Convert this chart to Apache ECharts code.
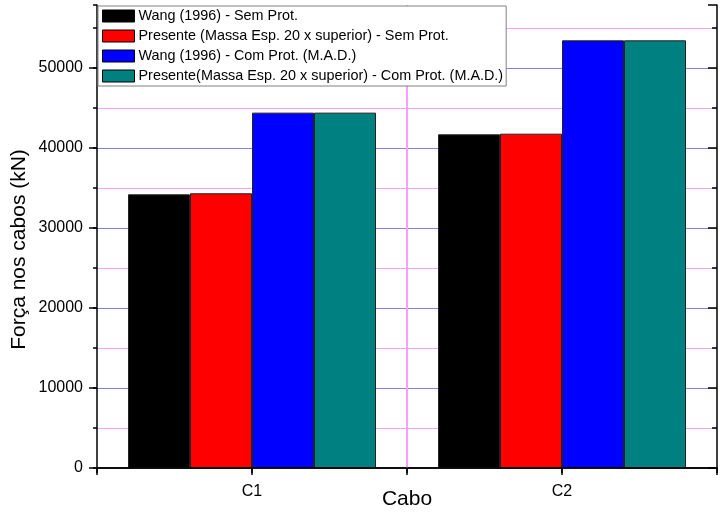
<!DOCTYPE html>
<html>
<head>
<meta charset="utf-8">
<script src="https://cdn.jsdelivr.net/npm/echarts@6/dist/echarts.min.js"></script>
<style>
html,body{margin:0;padding:0;background:#fff;}
#chart{width:727px;height:514px;}
</style>
</head>
<body>
<div id="chart"></div>
<script>
const categories = ['C1', 'C2'];
const seriesNames = [
  'Wang (1996) - Sem Prot.',
  'Presente (Massa Esp. 20 x superior) - Sem Prot.',
  'Wang (1996) - Com Prot. (M.A.D.)',
  'Presente(Massa Esp. 20 x superior) - Com Prot. (M.A.D.)'
];
const wangSem = [34210, 41710];
const presenteSem = [34340, 41790];
const wangCom = [44420, 53460];
const presenteCom = [44420, 53460];
const seriesColors = ['#000000', '#ff0000', '#0000ff', '#008080'];
const yMax = 57875;
// helper slots for the vertical grid: edge, C1 centre, middle, C2 centre, edge
const gridSlots = ['e0', 'c1', 'mid', 'c2', 'e1'];

const font = 'Liberation Sans, Arial, sans-serif';
const blueGrid = '#8080ff';
const pinkGrid = '#ff9cff';

const chart = echarts.init(document.getElementById('chart'));
const values = [wangSem, presenteSem, wangCom, presenteCom];

const frameLine = { show: true, lineStyle: { color: '#000', width: 1.5 } };
const noLabel = { show: false };

chart.setOption({
  animation: false,
  backgroundColor: '#fff',
  textStyle: { fontFamily: font },
  grid: { left: 97, right: 10, top: 5, bottom: 46, containLabel: false, outerBoundsMode: 'none' },
  legend: {
    orient: 'vertical',
    left: 98,
    top: 6,
    padding: [3, 3, 3, 4],
    itemWidth: 32,
    itemHeight: 12,
    itemGap: 6,
    backgroundColor: '#fff',
    borderColor: '#808080',
    borderWidth: 1,
    borderRadius: 0,
    itemStyle: { borderColor: '#000', borderWidth: 1 },
    textStyle: { fontFamily: font, fontSize: 14.4, color: '#000', padding: [0, 0, 0, -1], lineHeight: 12 },
    data: seriesNames.map(n => ({ name: n, icon: 'rect' })),
    z: 10
  },
  xAxis: [
    {
      type: 'category',
      data: categories,
      position: 'bottom',
      boundaryGap: true,
      axisLine: { show: false },
      axisTick: { show: false },
      splitLine: { show: false },
      axisLabel: { fontFamily: font, fontSize: 16, color: '#000', margin: 16 },
      name: 'Cabo',
      nameLocation: 'middle',
      nameGap: 21,
      nameMoveOverlap: false,
      nameTextStyle: { fontFamily: font, fontSize: 21, color: '#000' }
    },
    {
      // blue vertical grid lines at category centres
      type: 'category', data: gridSlots, boundaryGap: false, position: 'bottom', z: 2,
      axisLine: frameLine,
      axisTick: { show: true, inside: false, length: 7, interval: 0, lineStyle: { color: '#000', width: 1.5 } },
      axisLabel: noLabel,
      splitLine: { show: true, showMinLine: false, showMaxLine: false, interval: (i) => i % 2 === 1,
        lineStyle: { color: blueGrid, width: 1 } }
    },
    {
      // pink vertical grid line between the categories
      type: 'category', data: gridSlots, boundaryGap: false, position: 'top', z: 4,
      axisLine: frameLine,
      axisTick: { show: true, inside: true, length: 5, interval: 0, lineStyle: { color: '#000', width: 1.5 } },
      axisLabel: noLabel,
      splitLine: { show: true, showMinLine: false, showMaxLine: false, interval: (i) => i % 2 === 0,
        lineStyle: { color: pinkGrid, width: 2 } }
    }
  ],
  yAxis: [
    {
      type: 'value', position: 'left', min: 0, max: yMax, interval: 10000, z: 2,
      axisLine: frameLine,
      axisTick: { show: true, inside: false, length: 8, lineStyle: { color: '#000', width: 1.5 } },
      axisLabel: { fontFamily: font, fontSize: 16, color: '#000', margin: 14, showMaxLabel: false,
        formatter: v => String(v) },
      splitLine: { show: true, showMinLine: false, showMaxLine: false, lineStyle: { color: blueGrid, width: 1 } },
      name: 'Força nos cabos (kN)',
      nameLocation: 'middle',
      nameGap: 67,
      nameMoveOverlap: false,
      nameTextStyle: { fontFamily: font, fontSize: 21, color: '#000', padding: [0, 26, 0, 0] }
    },
    {
      type: 'value', position: 'left', min: 0, max: yMax, interval: 5000, z: 0,
      axisLine: { show: false },
      axisTick: { show: true, inside: false, length: 4, lineStyle: { color: '#000', width: 1.5 } },
      axisLabel: noLabel,
      splitLine: { show: true, showMinLine: false, showMaxLine: false, lineStyle: { color: pinkGrid, width: 1 } }
    },
    {
      type: 'value', position: 'right', min: 0, max: yMax, interval: 10000, z: 2,
      axisLine: frameLine,
      axisTick: { show: true, inside: true, length: 9, lineStyle: { color: '#000', width: 1.5 } },
      axisLabel: noLabel,
      splitLine: { show: false }
    },
    {
      type: 'value', position: 'right', min: 0, max: yMax, interval: 5000, z: 2,
      axisLine: { show: false },
      axisTick: { show: true, inside: true, length: 5, lineStyle: { color: '#000', width: 1.5 } },
      axisLabel: noLabel,
      splitLine: { show: false }
    }
  ],
  series: seriesNames.map((name, i) => ({
    name: name,
    type: 'bar',
    xAxisIndex: 0,
    yAxisIndex: 0,
    data: values[i],
    barGap: '0%',
    barCategoryGap: '20%',
    itemStyle: { color: seriesColors[i], borderColor: '#222', borderWidth: 1 },
    z: 3
  }))
});
</script>
</body>
</html>
